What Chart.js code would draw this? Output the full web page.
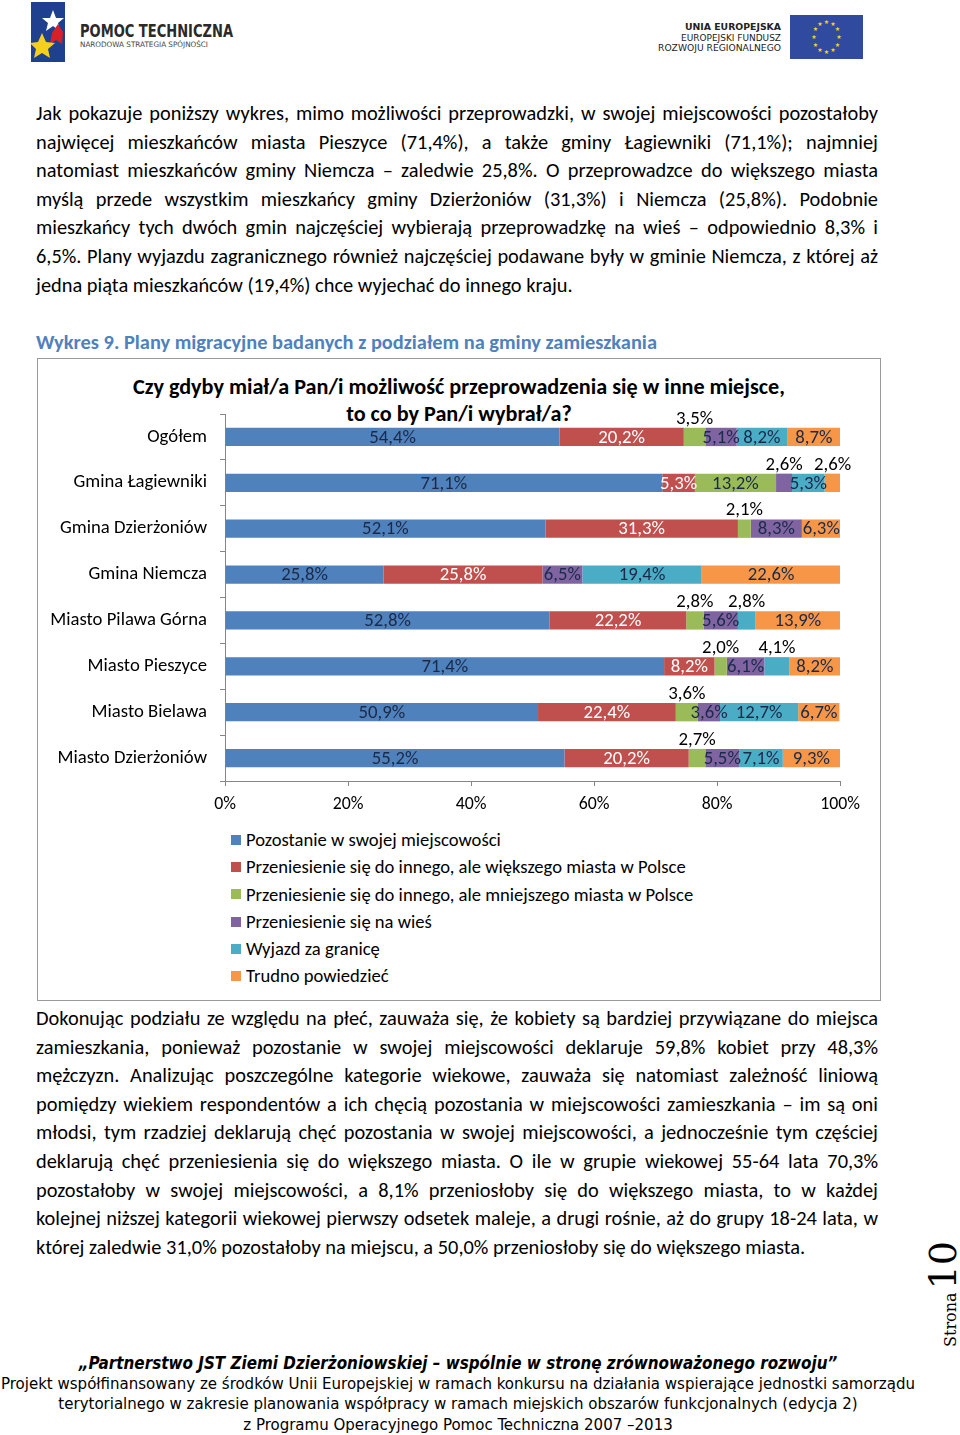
<!DOCTYPE html>
<html lang="pl">
<head>
<meta charset="utf-8">
<script src="https://cdn.jsdelivr.net/npm/chart.js@4.4.1/dist/chart.umd.min.js"></script>
<style>
  html, body { margin: 0; padding: 0; background: #fff; }
  body { width: 960px; height: 1435px; position: relative; overflow: hidden; font-family: Carlito, Lato, sans-serif; color: #000; }
  .abs { position: absolute; }
  .para { left: 36px; width: 842px; font-size: 20.4px; line-height: 28.6px; }
  .para div { text-align: justify; text-align-last: justify; }
  .para div.last { text-align-last: left; }
  .caption { left: 36px; top: 330px; font-size: 20.4px; font-weight: bold; color: #4f81bd; }
  .box { left: 37px; top: 358px; width: 842px; height: 641px; border: 1px solid #9a9a9a; }
  .title { left: 38px; width: 842px; top: 373px; text-align: center; font-size: 22.2px; font-weight: bold; line-height: 27px; }
  #chartWrap { left: 38px; top: 400px; width: 842px; height: 420px; }
  #legend { left: 231px; top: 826px; font-size: 18.6px; line-height: 27.3px; }
  #legend .item { display: flex; align-items: center; white-space: nowrap; }
  #legend .sw { width: 10px; height: 10px; margin-right: 5px; }
  .footer { left: 0; width: 916px; text-align: center; font-family: "DejaVu Sans", sans-serif; font-stretch: condensed; font-size: 16.7px; line-height: 20.2px; white-space: nowrap; }
  .strona { left: 923px; top: 1347px; transform: rotate(-90deg); transform-origin: left top; font-family: "DejaVu Serif", "Liberation Serif", serif; white-space: nowrap; line-height: 40px; }
</style>
</head>
<body>

<!-- header logos -->
<svg class="abs" style="left:28px;top:0px" width="215" height="66" viewBox="0 0 215 66">
  <rect x="3" y="2" width="34" height="60" fill="#1f3f8f"/>
  <polygon points="25,10 28,18 36,18 30,23 32,31 25,26 18,31 20,23 14,18 22,18" fill="#ffffff"/>
  <polygon points="30,24 35,32 34,44 28,40 22,44 24,33" fill="#d8202a"/>
  <polygon points="14,33 18,42 27,43 20,49 22,58 14,53 6,58 8,49 2,43 10,42" fill="#f4d01c"/>
  <text x="52" y="37" font-family="DejaVu Sans, sans-serif" font-size="17" font-weight="bold" fill="#2a2a2a" textLength="153" lengthAdjust="spacingAndGlyphs">POMOC TECHNICZNA</text>
  <text x="52" y="47" font-family="DejaVu Sans, sans-serif" font-size="7.5" fill="#444" textLength="128" lengthAdjust="spacingAndGlyphs">NARODOWA STRATEGIA SPÓJNOŚCI</text>
</svg>
<svg class="abs" style="left:650px;top:18px" width="135" height="40" viewBox="0 0 135 40">
  <g font-family="DejaVu Sans, sans-serif" fill="#222" text-anchor="end">
    <text x="131" y="12" font-size="9.5" font-weight="bold" textLength="96" lengthAdjust="spacingAndGlyphs">UNIA EUROPEJSKA</text>
    <text x="131" y="23" font-size="9.5" textLength="100" lengthAdjust="spacingAndGlyphs">EUROPEJSKI FUNDUSZ</text>
    <text x="131" y="33" font-size="9.5" textLength="123" lengthAdjust="spacingAndGlyphs">ROZWOJU REGIONALNEGO</text>
  </g>
</svg>
<svg class="abs" style="left:790px;top:15px" width="73" height="44" viewBox="0 0 73 44">
  <rect x="0" y="0" width="73" height="44" fill="#2f4a9e"/>
  <g fill="#f5d22a" font-size="6" text-anchor="middle" font-family="DejaVu Sans">
    <text x="36.5" y="9">★</text><text x="43" y="11">★</text><text x="47.5" y="16">★</text><text x="49" y="24">★</text>
    <text x="47.5" y="32">★</text><text x="43" y="37">★</text><text x="36.5" y="39">★</text><text x="30" y="37">★</text>
    <text x="25.5" y="32">★</text><text x="24" y="24">★</text><text x="25.5" y="16">★</text><text x="30" y="11">★</text>
  </g>
</svg>

<div class="abs para" style="top:99px">
  <div>Jak pokazuje poniższy wykres, mimo możliwości przeprowadzki, w swojej miejscowości pozostałoby</div>
  <div>najwięcej mieszkańców miasta Pieszyce (71,4%), a także gminy Łagiewniki (71,1%); najmniej</div>
  <div>natomiast mieszkańców gminy Niemcza – zaledwie 25,8%. O przeprowadzce do większego miasta</div>
  <div>myślą przede wszystkim mieszkańcy gminy Dzierżoniów (31,3%) i Niemcza (25,8%). Podobnie</div>
  <div>mieszkańcy tych dwóch gmin najczęściej wybierają przeprowadzkę na wieś – odpowiednio 8,3% i</div>
  <div>6,5%. Plany wyjazdu zagranicznego również najczęściej podawane były w gminie Niemcza, z której aż</div>
  <div class="last">jedna piąta mieszkańców (19,4%) chce wyjechać do innego kraju.</div>
</div>

<div class="abs caption">Wykres 9. Plany migracyjne badanych z podziałem na gminy zamieszkania</div>

<div class="abs box"></div>
<div class="abs title">Czy gdyby miał/a Pan/i możliwość przeprowadzenia się w inne miejsce,<br>to co by Pan/i wybrał/a?</div>
<div class="abs" id="chartWrap"><canvas id="migrationChart"></canvas></div>
<div class="abs" id="legend"></div>

<div class="abs para" style="top:1004px">
  <div>Dokonując podziału ze względu na płeć, zauważa się, że kobiety są bardziej przywiązane do miejsca</div>
  <div>zamieszkania, ponieważ pozostanie w swojej miejscowości deklaruje 59,8% kobiet przy 48,3%</div>
  <div>mężczyzn. Analizując poszczególne kategorie wiekowe, zauważa się natomiast zależność liniową</div>
  <div>pomiędzy wiekiem respondentów a ich chęcią pozostania w miejscowości zamieszkania – im są oni</div>
  <div>młodsi, tym rzadziej deklarują chęć pozostania w swojej miejscowości, a jednocześnie tym częściej</div>
  <div>deklarują chęć przeniesienia się do większego miasta. O ile w grupie wiekowej 55-64 lata 70,3%</div>
  <div>pozostałoby w swojej miejscowości, a 8,1% przeniosłoby się do większego miasta, to w każdej</div>
  <div>kolejnej niższej kategorii wiekowej pierwszy odsetek maleje, a drugi rośnie, aż do grupy 18-24 lata, w</div>
  <div class="last">której zaledwie 31,0% pozostałoby na miejscu, a 50,0% przeniosłoby się do większego miasta.</div>
</div>

<div class="abs strona"><span style="font-size:16px">Strona</span><span style="font-size:38px;margin-left:3px">10</span></div>

<div class="abs footer" style="top:1353px">
  <div style="font-weight:bold;font-style:italic;font-size:16.9px">„Partnerstwo JST Ziemi Dzierżoniowskiej – wspólnie w stronę zrównoważonego rozwoju”</div>
  <div>Projekt współfinansowany ze środków Unii Europejskiej w ramach konkursu na działania wspierające jednostki samorządu</div>
  <div>terytorialnego w zakresie planowania współpracy w ramach miejskich obszarów funkcjonalnych (edycja 2)</div>
  <div>z Programu Operacyjnego Pomoc Techniczna 2007 –2013</div>
</div>

<script>
// Categories (rows of the chart)
const categories = [
    'Ogółem', 'Gmina Łagiewniki', 'Gmina Dzierżoniów', 'Gmina Niemcza',
    'Miasto Pilawa Górna', 'Miasto Pieszyce', 'Miasto Bielawa', 'Miasto Dzierżoniów'
];

// Series values (%), one per answer
const stayValues     = [54.4, 71.1, 52.1, 25.8, 52.8, 71.4, 50.9, 55.2];
const biggerValues   = [20.2,  5.3, 31.3, 25.8, 22.2,  8.2, 22.4, 20.2];
const smallerValues  = [ 3.5, 13.2,  2.1,  0.0,  2.8,  2.0,  3.6,  2.7];
const villageValues  = [ 5.1,  2.6,  8.3,  6.5,  5.6,  6.1,  3.6,  5.5];
const abroadValues   = [ 8.2,  5.3,  0.0, 19.4,  2.8,  4.1, 12.7,  7.1];
const dontKnowValues = [ 8.7,  2.6,  6.3, 22.6, 13.9,  8.2,  6.7,  9.3];

const seriesLabels = [
    'Pozostanie w swojej miejscowości',
    'Przeniesienie się do innego, ale większego miasta w Polsce',
    'Przeniesienie się do innego, ale mniejszego miasta w Polsce',
    'Przeniesienie się na wieś',
    'Wyjazd za granicę',
    'Trudno powiedzieć'
];
const seriesColors = ['#4f81bd', '#c0504d', '#9bbb59', '#8064a2', '#4bacc6', '#f79646'];
const labelColors  = ['#1a2a48', '#ffffff', '#1a2a48', '#1a2a48', '#1a2a48', '#1a2a48'];

// X axis ticks
const xTicks = [0, 20, 40, 60, 80, 100];

// [series, category] pairs whose value label sits above the bar (too narrow inside)
const aboveLabels = [[2, 0], [3, 1], [5, 1], [2, 2], [2, 4], [4, 4], [2, 5], [4, 5], [2, 6], [2, 7]];

const FONT = 'Carlito, Lato, sans-serif';
const AXIS_GRAY = '#868686';

function formatPct(v) {
    return v.toFixed(1).replace('.', ',') + '%';
}

// Draw value labels on the segments
const segmentLabels = {
    id: 'segmentLabels',
    afterDatasetsDraw(chart) {
        const ctx = chart.ctx;
        ctx.save();
        ctx.font = '18.8px ' + FONT;
        ctx.textAlign = 'center';
        ctx.textBaseline = 'middle';
        chart.data.datasets.forEach((ds, di) => {
            const meta = chart.getDatasetMeta(di);
            meta.data.forEach((bar, i) => {
                const v = ds.data[i];
                if (!v) return;
                const x = (bar.x + bar.base) / 2;
                const above = aboveLabels.some(p => p[0] === di && p[1] === i);
                if (above) {
                    ctx.fillStyle = '#000';
                    ctx.fillText(formatPct(v), x, bar.y - 18);
                } else {
                    ctx.fillStyle = labelColors[di];
                    ctx.fillText(formatPct(v), x, bar.y + 1);
                }
            });
        });
        ctx.restore();
    }
};

const allValues = [stayValues, biggerValues, smallerValues, villageValues, abroadValues, dontKnowValues];

new Chart(document.getElementById('migrationChart'), {
    type: 'bar',
    data: {
        labels: categories,
        datasets: allValues.map((vals, i) => ({
            label: seriesLabels[i],
            data: vals,
            backgroundColor: seriesColors[i],
            borderWidth: 0,
            barPercentage: 0.4,
            categoryPercentage: 1.0
        }))
    },
    options: {
        indexAxis: 'y',
        responsive: true,
        maintainAspectRatio: false,
        animation: false,
        layout: { padding: { top: 14, right: 40, bottom: 0, left: 0 } },
        plugins: {
            legend: { display: false },
            tooltip: { enabled: false }
        },
        scales: {
            x: {
                stacked: true,
                min: 0,
                max: 100,
                afterBuildTicks: scale => { scale.ticks = xTicks.map(v => ({ value: v })); },
                ticks: {
                    callback: v => v + '%',
                    color: '#000',
                    font: { family: FONT, size: 17.8 },
                    padding: 8,
                    maxRotation: 0
                },
                grid: { drawOnChartArea: false, color: AXIS_GRAY, tickLength: 5 },
                border: { color: AXIS_GRAY },
                afterFit: scale => { scale.height = 39; }
            },
            y: {
                stacked: true,
                ticks: {
                    color: '#000',
                    font: { family: FONT, size: 18.7 },
                    padding: 13
                },
                grid: { drawOnChartArea: false, offset: true, color: AXIS_GRAY, tickLength: 5 },
                border: { color: AXIS_GRAY },
                afterFit: scale => {
                    scale.width = 187;
                    scale.paddingTop = 0;
                    scale.paddingBottom = 0;
                }
            }
        }
    },
    plugins: [segmentLabels]
});

// Legend, one entry per row
document.getElementById('legend').innerHTML = seriesLabels.map((label, i) =>
    `<div class="item"><span class="sw" style="background:${seriesColors[i]}"></span>${label}</div>`
).join('');
</script>
</body>
</html>
